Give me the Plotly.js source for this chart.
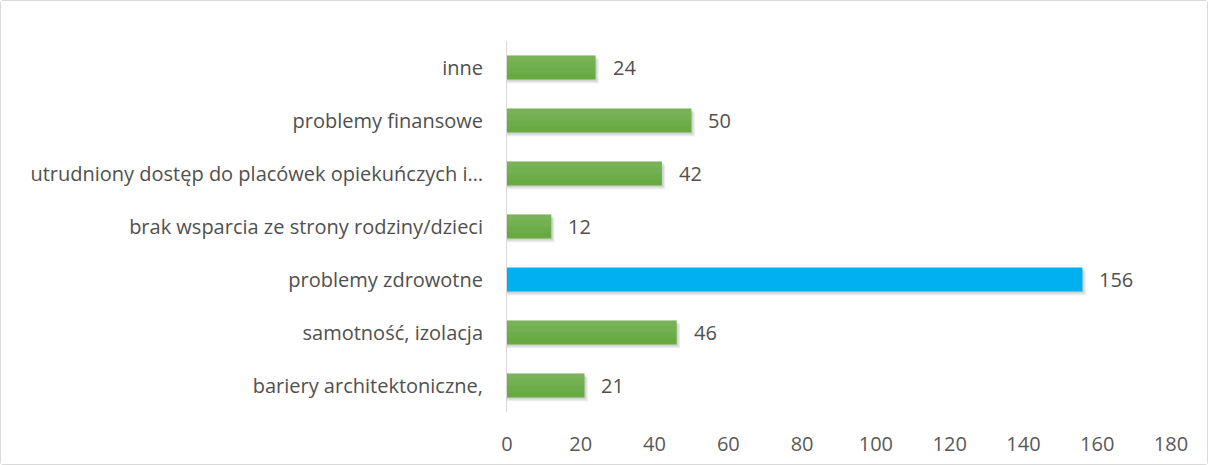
<!DOCTYPE html>
<html><head><meta charset="utf-8">
<script src="https://cdn.plot.ly/plotly-3.0.1.min.js"></script>
<style>html,body{margin:0;padding:0;background:#fff}#c{width:1206px;height:463px;border:1px solid #d9d9d9;border-radius:3px}</style>
</head><body><div id="c"></div>
<script>
const categories = ["bariery architektoniczne,", "samotność, izolacja", "problemy zdrowotne", "brak wsparcia ze strony rodziny/dzieci", "utrudniony dostęp do placówek opiekuńczych i…", "problemy finansowe", "inne"];
const values = [21, 46, 156, 12, 42, 50, 24];
const barColors = ["#67aa41", "#67aa41", "#00b0f0", "#67aa41", "#67aa41", "#67aa41", "#67aa41"];
const xTicks = [0, 20, 40, 60, 80, 100, 120, 140, 160, 180];
const font = "'Open Sans', sans-serif";
const W = 0.45;
const traces = [];
// soft drop shadow
[[0.9, 0.07, 0.08], [0.5, 0.04, 0.10]].forEach(([dx, dy, a]) => traces.push({
  type: 'bar', orientation: 'h', y: categories, x: values.map(v => v + dx),
  marker: {color: 'rgba(0,0,0,' + a + ')', line: {width: 0}},
  width: W, offset: -W / 2 - dy, hoverinfo: 'none'
}));
// main bars
traces.push({
  type: 'bar', orientation: 'h', y: categories, x: values,
  marker: {color: barColors, line: {width: 0}},
  width: W, offset: -W / 2, hoverinfo: 'none'
});
// gentle top-light gradient on the green bars
[0.25, 0.5, 0.75].forEach(f => traces.push({
  type: 'bar', orientation: 'h', y: categories, x: values,
  marker: {color: barColors.map(c => c === '#00b0f0' ? 'rgba(0,0,0,0)' : 'rgba(255,255,255,0.045)'), line: {width: 0}},
  width: W * f, offset: W / 2 - W * f, hoverinfo: 'none'
}));
const annotations = values.map((v, i) => ({
  x: v, y: categories[i], xref: 'x', yref: 'y', text: String(v), showarrow: false,
  xanchor: 'left', xshift: 15, font: {family: font, size: 20, color: '#505050'}
}));
Plotly.newPlot('c', traces, {
  width: 1206, height: 463,
  margin: {l: 506, r: 36, t: 40, b: 52},
  paper_bgcolor: '#fff', plot_bgcolor: '#fff',
  showlegend: false, barmode: 'overlay',
  annotations: annotations,
  xaxis: {range: [0, 180], tickvals: xTicks, ticktext: xTicks.map(String), showgrid: false, zeroline: false, showline: false, ticks: '', ticklabelstandoff: 18, tickfont: {family: font, size: 20, color: '#595959'}, fixedrange: true},
  yaxis: {type: 'category', categoryorder: 'array', categoryarray: categories, showgrid: false, zeroline: false, showline: true, linecolor: '#d9d9d9', linewidth: 1, ticks: '', ticklabelstandoff: 19, tickfont: {family: font, size: 20, color: '#505050'}, fixedrange: true}
}, {staticPlot: true});
</script></body></html>
